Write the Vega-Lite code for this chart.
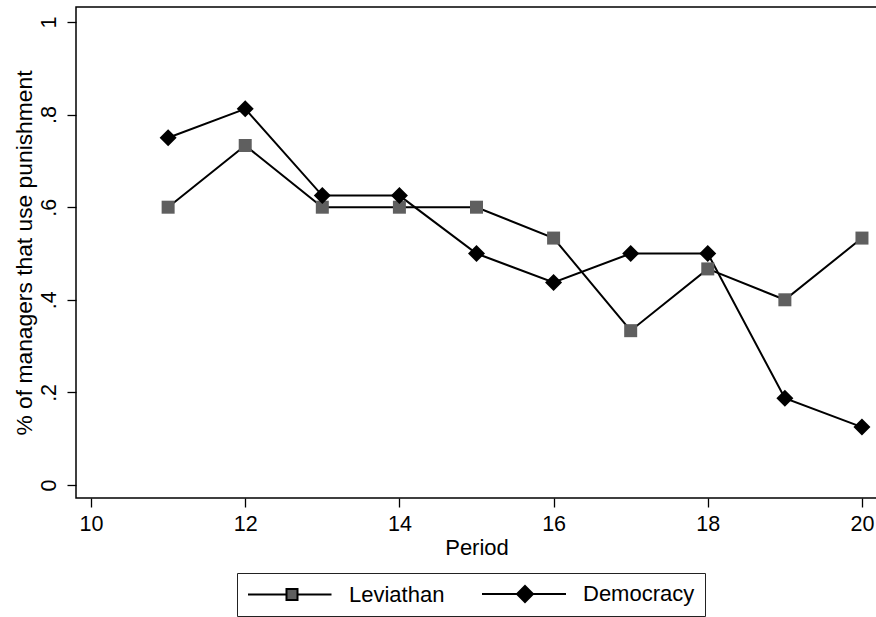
{
  "$schema": "https://vega.github.io/schema/vega-lite/v6.json",
  "width": 801,
  "height": 491,
  "autosize": {"type": "none"},
  "padding": {"left": 76, "top": 7, "right": 0, "bottom": 119},
  "background": "white",
  "config": {
    "font": "Liberation Sans",
    "view": {"stroke": "black", "strokeWidth": 1.5},
    "axis": {"grid": false, "domain": false, "tickColor": "black", "tickWidth": 1.3, "tickSize": 9, "labelColor": "black", "titleColor": "black", "labelFont": "Liberation Sans", "titleFont": "Liberation Sans", "titleFontWeight": "normal"}
  },
  "data": {
    "values": [
      {"period": 11, "series": "Leviathan", "value": 0.6},
      {"period": 12, "series": "Leviathan", "value": 0.7333},
      {"period": 13, "series": "Leviathan", "value": 0.6},
      {"period": 14, "series": "Leviathan", "value": 0.6},
      {"period": 15, "series": "Leviathan", "value": 0.6},
      {"period": 16, "series": "Leviathan", "value": 0.5333},
      {"period": 17, "series": "Leviathan", "value": 0.3333},
      {"period": 18, "series": "Leviathan", "value": 0.4667},
      {"period": 19, "series": "Leviathan", "value": 0.4},
      {"period": 20, "series": "Leviathan", "value": 0.5333},
      {"period": 11, "series": "Democracy", "value": 0.75},
      {"period": 12, "series": "Democracy", "value": 0.8125},
      {"period": 13, "series": "Democracy", "value": 0.625},
      {"period": 14, "series": "Democracy", "value": 0.625},
      {"period": 15, "series": "Democracy", "value": 0.5},
      {"period": 16, "series": "Democracy", "value": 0.4375},
      {"period": 17, "series": "Democracy", "value": 0.5},
      {"period": 18, "series": "Democracy", "value": 0.5},
      {"period": 19, "series": "Democracy", "value": 0.1875},
      {"period": 20, "series": "Democracy", "value": 0.125}
    ]
  },
  "encoding": {
    "x": {
      "field": "period", "type": "quantitative",
      "scale": {"domain": [9.805, 20.195], "nice": false, "zero": false},
      "axis": {"values": [10, 12, 14, 16, 18, 20], "title": "Period", "labelFontSize": 21.5, "titleFontSize": 22, "labelPadding": 6, "titlePadding": 3}
    },
    "y": {
      "field": "value", "type": "quantitative",
      "scale": {"domain": [-0.0281, 1.0324], "nice": false, "zero": false},
      "axis": {
        "values": [0, 0.2, 0.4, 0.6, 0.8, 1],
        "labelExpr": "datum.value == 0 ? '0' : datum.value == 1 ? '1' : replace(format(datum.value, '.1f'), '0.', '.')",
        "title": "% of managers that use punishment",
        "labelFontSize": 21.5, "titleFontSize": 22.8,
        "labelAngle": -90, "labelAlign": "center", "labelBaseline": "alphabetic", "labelPadding": 12,
        "titlePadding": 2
      }
    }
  },
  "layer": [
    {
      "mark": {"type": "line", "stroke": "black", "strokeWidth": 2},
      "encoding": {"detail": {"field": "series"}}
    },
    {
      "mark": {"type": "point", "filled": true, "opacity": 1, "size": 289},
      "encoding": {
        "fill": {
          "field": "series", "type": "nominal",
          "scale": {"domain": ["Leviathan", "Democracy"], "range": ["#5f5f5f", "#000000"]},
          "legend": null
        },
        "shape": {
          "field": "series", "type": "nominal",
          "scale": {"domain": ["Leviathan", "Democracy"], "range": ["M-0.765,-0.765H0.765V0.765H-0.765Z", "diamond"]},
          "legend": null
        }
      }
    },
    {
      "transform": [{"filter": "false"}],
      "mark": {"type": "point", "filled": true, "opacity": 1, "strokeWidth": 2},
      "encoding": {
        "fill": {
          "field": "series", "type": "nominal",
          "scale": {"domain": ["Leviathan", "Democracy"], "range": ["#5f5f5f", "#000000"]},
          "legend": {
            "orient": "none", "legendX": 161, "legendY": 566,
            "direction": "horizontal", "title": null,
            "strokeColor": "#222222", "fillColor": "white", "padding": 10,
            "labelFontSize": 22, "labelColor": "black", "labelFont": "Liberation Sans",
            "labelOffset": 80, "columnPadding": 33, "symbolSize": 400,
            "symbolStrokeColor": "black", "symbolStrokeWidth": 2
          }
        },
        "stroke": {
          "field": "series", "type": "nominal",
          "scale": {"domain": ["Leviathan", "Democracy"], "range": ["#000000", "#000000"]},
          "legend": {
            "orient": "none", "legendX": 161, "legendY": 566,
            "direction": "horizontal", "title": null,
            "strokeColor": "#222222", "fillColor": "white", "padding": 10,
            "labelFontSize": 22, "labelColor": "black", "labelFont": "Liberation Sans",
            "labelOffset": 80, "columnPadding": 33, "symbolSize": 400,
            "symbolStrokeColor": "black", "symbolStrokeWidth": 2
          }
        },
        "shape": {
          "field": "series", "type": "nominal",
          "scale": {"domain": ["Leviathan", "Democracy"], "range": ["M-1,0H2.85M3.95,0H7.35M2.85,-0.55H3.95V0.55H2.85Z", "M-1,0H7.4M3.3,-0.8L4.1,0L3.3,0.8L2.5,0Z"]},
          "legend": {
            "orient": "none", "legendX": 161, "legendY": 566,
            "direction": "horizontal", "title": null,
            "strokeColor": "#222222", "fillColor": "white", "padding": 10,
            "labelFontSize": 22, "labelColor": "black", "labelFont": "Liberation Sans",
            "labelOffset": 80, "columnPadding": 33, "symbolSize": 400,
            "symbolStrokeColor": "black", "symbolStrokeWidth": 2
          }
        }
      }
    }
  ],
  "resolve": {"scale": {"fill": "independent", "shape": "independent", "stroke": "independent"}}
}
